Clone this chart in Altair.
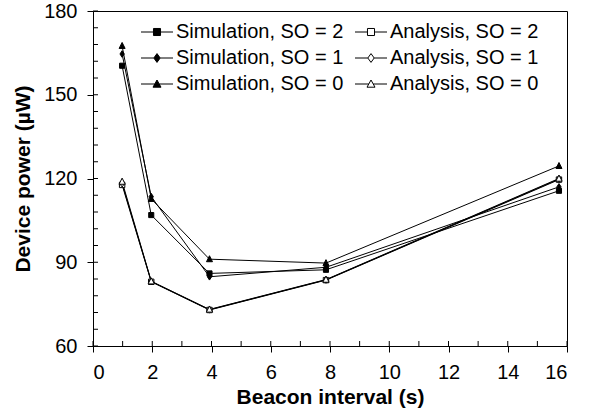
import altair as alt
import pandas as pd

# ---------------- data ----------------
beacon_interval = [0.983, 1.966, 3.932, 7.864, 15.729]
sim_so2 = [160.4, 106.9, 86.0, 87.3, 115.6]
sim_so1 = [164.6, 113.5, 84.8, 88.2, 117.0]
sim_so0 = [167.5, 112.7, 91.1, 89.7, 124.5]
ana_so2 = [117.7, 83.0, 72.9, 83.6, 119.6]
ana_so1 = [118.2, 83.1, 73.0, 83.7, 119.8]
ana_so0 = [118.9, 83.2, 73.1, 83.8, 120.0]

series_names = ["Simulation, SO = 2", "Simulation, SO = 1", "Simulation, SO = 0",
                "Analysis, SO = 2", "Analysis, SO = 1", "Analysis, SO = 0"]
series_values = [sim_so2, sim_so1, sim_so0, ana_so2, ana_so1, ana_so0]

x_ticks = [0, 2, 4, 6, 8, 10, 12, 14, 16]
y_ticks = [60, 90, 120, 150, 180]
x_minor = list(range(0, 17))
y_minor = list(range(60, 181, 6))

rows = []
for name, vals in zip(series_names, series_values):
    for xv, yv in zip(beacon_interval, vals):
        rows.append({"series": name, "interval": xv, "power": yv})
df = pd.DataFrame(rows)
xminor_df = pd.DataFrame({"v": x_minor})
yminor_df = pd.DataFrame({"v": y_minor})

# ---------------- styles ----------------
W, H = 474, 335
FONT = "Liberation Sans"

fill_range = ["black", "black", "black", "white", "white", "white"]
stroke_range = ["black"] * 6
point_paths = [
    "M-0.85,-0.85H0.85V0.85H-0.85Z",
    "M0,-1.1L0.72,0L0,1.1L-0.72,0Z",
    "M0,-1.15L1,0.85L-1,0.85Z",
    "M-0.9,-0.9H0.9V0.9H-0.9Z",
    "M0,-1.15L0.78,0L0,1.15L-0.78,0Z",
    "M0,-1.15L1.05,0.9L-1.05,0.9Z",
]
point_sizes = [36, 36, 36, 64, 64, 64]

sq = "M-0.44,-0.44H0.44V0.44H-0.44Z"
dm = "M0,-0.55L0.4,0L0,0.55L-0.4,0Z"
tr = "M0,-0.5L0.5,0.4L-0.5,0.4Z"
legend_paths = [
    "M-2,0H-0.44M0.44,0H2" + sq,
    "M-2,0H-0.4M0.4,0H2" + dm,
    "M-2,0H-0.28M0.28,0H2" + tr,
    "M-2,0H-0.44M0.44,0H2" + sq,
    "M-2,0H-0.4M0.4,0H2" + dm,
    "M-2,0H-0.28M0.28,0H2" + tr,
]

xscale = alt.Scale(domain=[0, 16], nice=False, zero=False)
yscale = alt.Scale(domain=[60, 180], nice=False, zero=False)

base = alt.Chart(df)

lines = base.mark_line(color="black", strokeWidth=1).encode(
    x=alt.X("interval:Q", scale=xscale,
            axis=alt.Axis(values=x_ticks, title="Beacon interval (s)", tickSize=6,
                          labelPadding=10, titlePadding=4, format="d")),
    y=alt.Y("power:Q", scale=yscale,
            axis=alt.Axis(values=y_ticks, title="Device power (µW)", tickSize=6,
                          labelPadding=10, titlePadding=10, format="d")),
    detail="series:N",
    order="interval:Q",
)

# inward minor ticks (values from the tick lists, placed through the scales)
xminor = alt.Chart(xminor_df).mark_rule(color="black", strokeWidth=1, opacity=1).encode(
    x=alt.X("v:Q", scale=xscale, axis=None),
    y=alt.value(H - 5),
    y2=alt.value(H),
)
yminor = alt.Chart(yminor_df).mark_rule(color="black", strokeWidth=1, opacity=1).encode(
    y=alt.Y("v:Q", scale=yscale, axis=None),
    x=alt.value(0),
    x2=alt.value(5),
)

points = base.mark_point(filled=True, stroke="black", strokeWidth=1, opacity=1).encode(
    x=alt.X("interval:Q", scale=xscale, axis=None),
    y=alt.Y("power:Q", scale=yscale, axis=None),
    shape=alt.Shape("series:N", scale=alt.Scale(domain=series_names, range=point_paths), legend=None),
    fill=alt.Fill("series:N", scale=alt.Scale(domain=series_names, range=fill_range), legend=None),
    size=alt.Size("series:N", scale=alt.Scale(domain=series_names, range=point_sizes), legend=None),
)

leg = alt.Legend(
    orient="none", legendX=54, legendY=11, columns=2, title=None,
    symbolSize=256, symbolStrokeWidth=1, symbolStrokeColor="black", symbolOpacity=1,
    labelFont=FONT, labelFontSize=20, labelColor="black", labelOffset=9, labelLimit=0,
    columnPadding=9, rowPadding=6, padding=0,
)

legend_layer = base.mark_point(filled=True, opacity=0).encode(
    x=alt.X("interval:Q", scale=xscale, axis=None),
    y=alt.Y("power:Q", scale=yscale, axis=None),
    shape=alt.Shape("series:N", scale=alt.Scale(domain=series_names, range=legend_paths), legend=leg),
    fill=alt.Fill("series:N", scale=alt.Scale(domain=series_names, range=fill_range), legend=leg),
    stroke=alt.Stroke("series:N", scale=alt.Scale(domain=series_names, range=stroke_range), legend=leg),
)

chart = alt.layer(lines, xminor, yminor, points, legend_layer).resolve_scale(
    x="independent", y="independent", shape="independent", fill="independent",
    size="independent", stroke="independent"
).properties(
    width=W, height=H,
    autosize=alt.AutoSizeParams(type="none"),
    padding={"left": 93, "top": 11, "right": 25, "bottom": 69},
    background="white",
).configure_view(
    stroke="black", strokeWidth=1
).configure_axis(
    grid=False, labelFont=FONT, labelFontSize=20, labelColor="black",
    titleFont=FONT, titleFontSize=21, titleFontWeight="bold", titleColor="black",
    domainColor="black", domainWidth=1, tickColor="black", tickWidth=1,
)

chart.save("out.html", embed_options={"renderer": "svg", "actions": False})
